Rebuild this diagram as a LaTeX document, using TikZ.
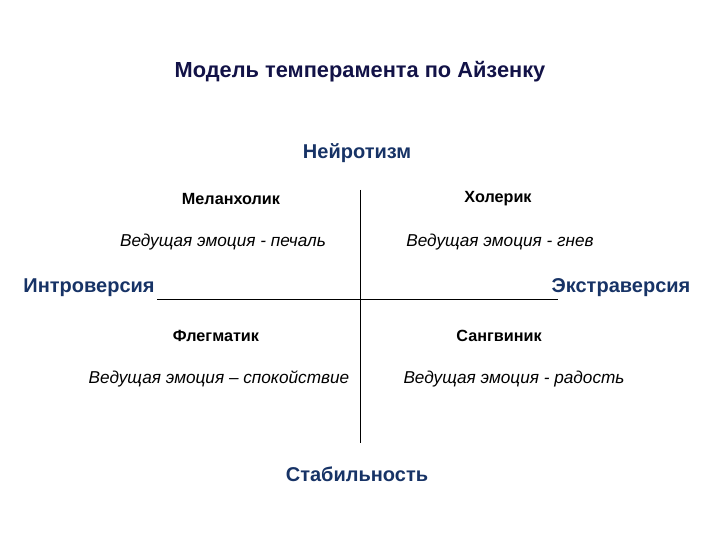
\documentclass[tikz,border=0pt]{standalone}
\usepackage{fontspec}
\setmainfont{Liberation Sans}
\usepackage{tikz}
\pgfdeclarelayer{edgelayer}
\pgfdeclarelayer{nodelayer}
\pgfsetlayers{edgelayer,nodelayer,main}
\tikzstyle{none}=[inner sep=0pt]
\tikzstyle{title}=[inner sep=0pt, font=\fontsize{21.8}{25}\selectfont\bfseries, text=navy]
\tikzstyle{axis}=[inner sep=0pt, font=\fontsize{20}{23}\selectfont\bfseries, text=axisblue]
\tikzstyle{type}=[inner sep=0pt, font=\fontsize{16.2}{19}\selectfont\bfseries]
\tikzstyle{emotion}=[inner sep=0pt, font=\fontsize{17.2}{20}\selectfont\itshape]
\definecolor{navy}{rgb}{0.07,0.07,0.28}
\definecolor{axisblue}{rgb}{0.09,0.2,0.4}
\begin{document}
\begin{tikzpicture}[x=1pt, y=-1pt]
	\useasboundingbox (0, 0) rectangle (720, 540);
	\begin{pgfonlayer}{nodelayer}
		\node [style=title] (0) at (360, 72) {Модель темперамента по Айзенку};
		\node [style=axis] (1) at (357, 153) {Нейротизм};
		\node [style=axis] (2) at (357, 474) {Стабильность};
		\node [style=axis] (3) at (89, 288) {Интроверсия};
		\node [style=axis] (4) at (621, 288) {Экстраверсия};
		\node [style=type] (5) at (231, 199) {Меланхолик};
		\node [style=type] (6) at (498, 199) {Холерик};
		\node [style=emotion] (7) at (223, 242) {Ведущая эмоция - печаль};
		\node [style=emotion] (8) at (500, 242) {Ведущая эмоция - гнев};
		\node [style=type] (9) at (216, 336) {Флегматик};
		\node [style=type] (10) at (499, 336) {Сангвиник};
		\node [style=emotion] (11) at (219, 379) {Ведущая эмоция – спокойствие};
		\node [style=emotion] (12) at (514, 379) {Ведущая эмоция - радость};
		\node [style=none] (13) at (360, 190) {};
		\node [style=none] (14) at (360, 443) {};
		\node [style=none] (15) at (157, 299) {};
		\node [style=none] (16) at (558, 299) {};
	\end{pgfonlayer}
	\begin{pgfonlayer}{edgelayer}
		\draw [line width=1] (13.center) to (14.center);
		\draw [line width=1] (15.center) to (16.center);
	\end{pgfonlayer}
\end{tikzpicture}
\end{document}
